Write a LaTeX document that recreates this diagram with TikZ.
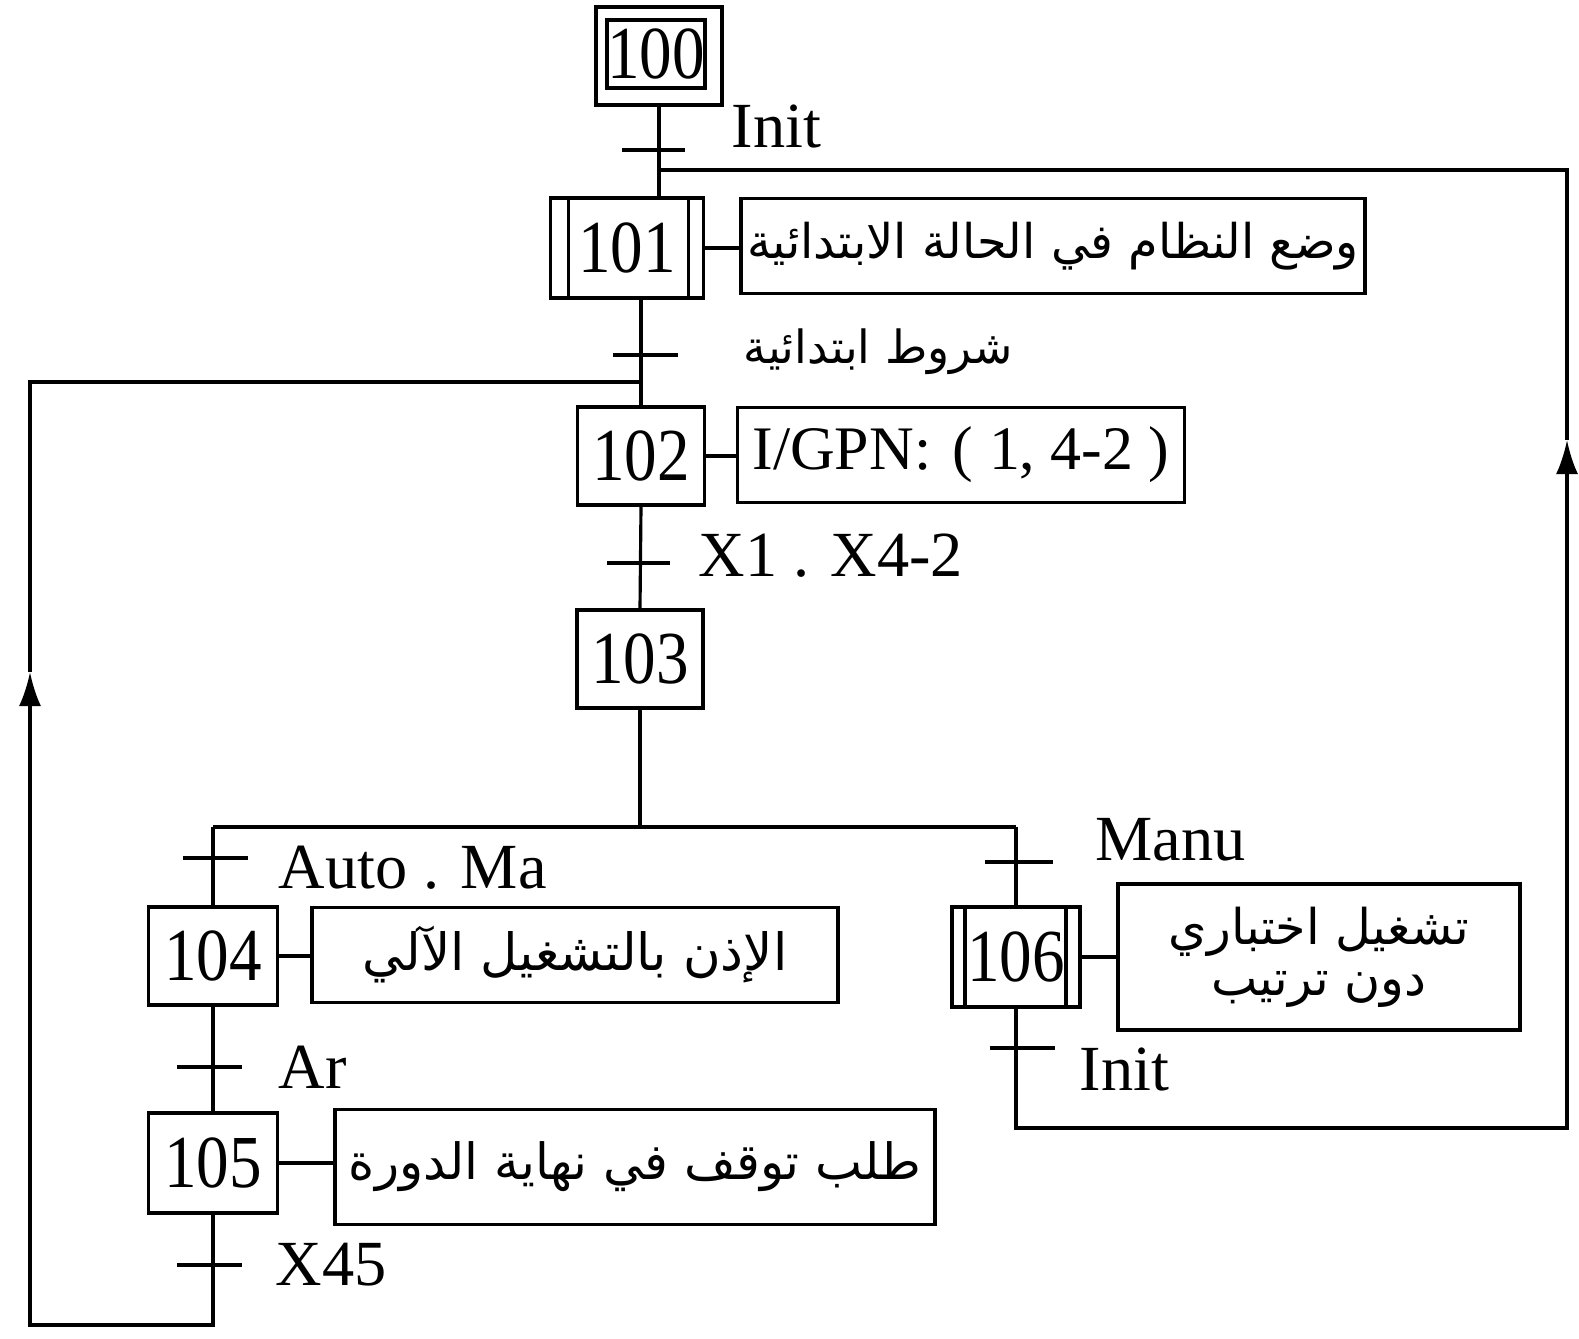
\documentclass[tikz,border=0pt]{standalone}
\usepackage{graphicx}
\usepackage{fontspec}
\setmainfont{Liberation Serif}
\newfontfamily\arabicfont[Script=Arabic]{DejaVu Sans}
\TeXXeTstate=1
\usetikzlibrary{arrows.meta}
\newcommand{\artext}[1]{{\arabicfont\beginR #1\endR}}
\newcommand{\stepnum}[1]{\scalebox{1}[1.15]{#1}}
\newcommand{\arsize}[1]{\fontsize{#1}{#1}\selectfont}

\begin{document}
\begin{tikzpicture}[x=0.01cm, y=-0.01cm, line width=0.9pt,
  stepbox/.style={draw, line width=1pt, inner sep=0pt, minimum width=1.28cm, minimum height=0.99cm,
    font=\fontsize{18.5}{20}\selectfont},
  actbox/.style={draw, line width=1pt, inner sep=0pt, align=center},
  lbl/.style={font=\fontsize{18.3}{20}\selectfont, inner sep=0pt},
  arlbl/.style={font=\arsize{13}, inner sep=0pt},
  tick/.style={line width=1pt},
  up/.style={-{Latex[length=0.34cm,width=0.22cm]}}]

\fill[white] (0,0) rectangle (1579,1338);
\useasboundingbox (0,0) rectangle (1579,1338);

% ---- initial step 100
\node[stepbox, minimum width=0.88cm, minimum height=0.68cm] (s100in) at (656,54) {\stepnum{100}};
\node[draw, line width=1pt, inner sep=0pt, minimum width=1.26cm, minimum height=0.98cm] (s100) at (659,56) {};

% ---- step 101 (macro step) and its action
\node[stepbox, minimum width=1.53cm, minimum height=1.0cm] (s101) at (627,248) {\stepnum{101}};
\draw[line width=1pt] ([xshift=0.20cm]s101.north west) -- ([xshift=0.20cm]s101.south west);
\draw[line width=1pt] ([xshift=-0.17cm]s101.north east) -- ([xshift=-0.17cm]s101.south east);
\node[actbox, font=\arsize{13.6}, minimum width=6.24cm, minimum height=0.95cm] (a101) at (1053,246)
  {\artext{وضع النظام في الحالة الابتدائية}};
\draw (s101.east) -- (s101.east -| a101.west);

% ---- step 102
\node[stepbox, minimum width=1.27cm, minimum height=0.98cm] (s102) at (641,456) {\stepnum{102}};
\node[actbox, font=\fontsize{17.6}{20}\selectfont, minimum width=4.47cm, minimum height=0.95cm] (a102) at (961,455)
  {I/GPN:\hspace{0.35em}( 1, 4-2 )};
\draw (s102.east) -- (s102.east -| a102.west);

% ---- step 103
\node[stepbox, minimum width=1.26cm, minimum height=0.98cm] (s103) at (640,659) {\stepnum{103}};

% ---- steps 104, 105 (automatic branch)
\node[stepbox, minimum width=1.29cm, minimum height=0.98cm] (s104) at (213,956) {\stepnum{104}};
\node[actbox, font=\arsize{14.6}, minimum width=5.26cm, minimum height=0.95cm] (a104) at (575,955)
  {\artext{الإذن بالتشغيل الآلي}};
\draw (s104.east) -- (s104.east -| a104.west);

\node[stepbox, minimum width=1.29cm, minimum height=1.0cm] (s105) at (213,1163) {\stepnum{105}};
\node[actbox, font=\arsize{14.2}, minimum width=6.0cm, minimum height=1.15cm] (a105) at (635,1167)
  {\artext{طلب توقف في نهاية الدورة}};
\draw (s105.east) -- (s105.east -| a105.west);

% ---- step 106 (manual branch)
\node[stepbox, minimum width=1.28cm, minimum height=1.0cm] (s106) at (1016,957) {\stepnum{106}};
\draw[line width=1pt] ([xshift=0.15cm]s106.north west) -- ([xshift=0.15cm]s106.south west);
\draw[line width=1pt] ([xshift=-0.16cm]s106.north east) -- ([xshift=-0.16cm]s106.south east);
\node[actbox, font=\fontsize{14}{14.5}\selectfont, minimum width=4.02cm, minimum height=1.46cm] (a106) at (1319,957)
  {\artext{تشغيل اختباري}\\\artext{دون ترتيب}};
\draw (s106.east) -- (s106.east -| a106.west);

% ---- transition points
\coordinate (t1) at (657,150);
\coordinate (t2) at (641,355);
\coordinate (t3) at (641,563);
\coordinate (t4) at (213,858);
\coordinate (t5) at (213,1067);
\coordinate (t6) at (213,1265);
\coordinate (t7) at (1018,862);
\coordinate (t8) at (1018,1048);

\draw[tick] ([xshift=-0.35cm]t1) -- ([xshift=0.28cm]t1);
\draw[tick] ([xshift=-0.28cm]t2) -- ([xshift=0.37cm]t2);
\draw[tick] ([xshift=-0.34cm]t3) -- ([xshift=0.29cm]t3);
\draw[tick] ([xshift=-0.30cm]t4) -- ([xshift=0.35cm]t4);
\draw[tick] ([xshift=-0.36cm]t5) -- ([xshift=0.29cm]t5);
\draw[tick] ([xshift=-0.36cm]t6) -- ([xshift=0.29cm]t6);
\draw[tick] ([xshift=-0.33cm]t7) -- ([xshift=0.35cm]t7);
\draw[tick] ([xshift=-0.28cm]t8) -- ([xshift=0.37cm]t8);

% ---- receptivities
\node[lbl, anchor=base west] (r1) at (730,147) {Init};
\node[arlbl, anchor=west] (r2) at (742,352) {\artext{شروط ابتدائية}};
\node[lbl, anchor=base west] (r3) at (697,576) {X1 . X4-2};
\node[lbl, anchor=base west] (r4) at (277,888) {Auto . Ma};
\node[lbl, anchor=base west] (r5) at (277,1088) {Ar};
\node[lbl, anchor=base west] (r6) at (274,1285) {X45};
\node[lbl, anchor=base west] (r7) at (1094,860) {Manu};
\node[lbl, anchor=base west] (r8) at (1078,1090) {Init};

% ---- main sequence links
\draw (s100.south) -- (s100.south |- s101.north);
\draw (s102.north |- s101.south) -- (s102.north);
\draw (s102.south) -- (s103.north);

% ---- selection of sequence
\coordinate (d) at (640,827);
\draw (s103.south) -- (d);
\draw (s104.north |- d) -- (s106.north |- d);
\draw (s104.north |- d) -- (s104.north);
\draw (s106.north |- d) -- (s106.north);
\draw (s104.south) -- (s105.north);

% ---- return loop of the automatic branch
\coordinate (j2) at (641,382);
\coordinate (l1) at (30,1325);
\coordinate (la) at (30,672);
\draw[up] (s105.south) -- (s105.south |- l1) -- (l1) -- (la);
\draw (la) -- (la |- j2) -- (j2);

% ---- return loop of the manual branch
\coordinate (j1) at (657,170);
\coordinate (m1) at (1567,1128);
\coordinate (ma) at (1567,440);
\draw[up] (s106.south) -- (s106.south |- m1) -- (m1) -- (ma);
\draw (ma) -- (ma |- j1) -- (j1);

\end{tikzpicture}
\end{document}
